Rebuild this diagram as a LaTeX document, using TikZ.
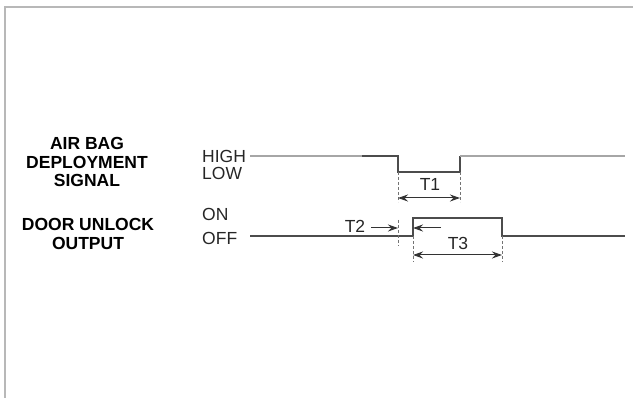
\documentclass[tikz,border=0pt]{standalone}
\usepackage{fontspec}
\setmainfont{Liberation Sans}
\usetikzlibrary{arrows.meta}
\begin{document}
\begin{tikzpicture}[x=1pt,y=-1pt,
  frame/.style={draw=black!28,line width=2pt},
  wave/.style={draw=black!70,line width=1.8pt},
  wavelight/.style={draw=black!35,line width=2.8pt},
  guide/.style={draw=black!55,line width=0.7pt,dash pattern=on 3pt off 2pt},
  dim/.style={draw=black!80,line width=1pt,-{Stealth[length=10pt,width=7pt]}},
  ddim/.style={draw=black!80,line width=1pt,{Stealth[length=10pt,width=7pt]}-{Stealth[length=10pt,width=7pt]}},
  sig/.style={font=\fontsize{17.5}{18.8}\selectfont\bfseries,align=center,inner sep=0pt},
  lvl/.style={font=\fontsize{17.5}{19}\selectfont,anchor=west,inner sep=0pt,text=black!85},
  tl/.style={font=\fontsize{17.5}{19}\selectfont,inner sep=0pt,text=black!85}]
\useasboundingbox (0,0) rectangle (633,398);
% frame
\draw[frame] (633,7) -- (5,7) -- (5,398);
% labels
\node[sig] (ab) at (87,162) {AIR BAG\\DEPLOYMENT\\SIGNAL};
\node[sig] (du) at (88,234) {DOOR UNLOCK\\OUTPUT};
\node[lvl] (high) at (202,156) {HIGH};
\node[lvl] (low) at (202,173) {LOW};
\node[lvl] (on) at (202,214) {ON};
\node[lvl] (off) at (202,238) {OFF};
% air bag waveform
\coordinate (a0) at (250,156);
\coordinate (a1) at (362,156);
\coordinate (a2) at (398,156);
\coordinate (a3) at (398,172);
\coordinate (a4) at (460,172);
\coordinate (a5) at (460,156);
\coordinate (a6) at (625,156);
\draw[wavelight] (a0) -- (a1);
\draw[wave] (a1) -- (a2) -- (a3) -- (a4) -- (a5);
\draw[wavelight] (a5) -- (a6);
% door unlock waveform
\coordinate (d0) at (250,236);
\coordinate (d1) at (413,236);
\coordinate (d2) at (413,218);
\coordinate (d3) at (502,218);
\coordinate (d4) at (502,236);
\coordinate (d5) at (625,236);
\draw[wave] (d0) -- (d1) -- (d2) -- (d3) -- (d4) -- (d5);
% guides
\coordinate (g1) at (398,202);
\coordinate (g2) at (460,202);
\draw[guide] (a3) -- (g1);
\draw[guide] (a4) -- (g2);
\coordinate (g3t) at (398,220);
\coordinate (g3b) at (398,246);
\draw[guide] (g3t) -- (g3b);
\coordinate (g4) at (413,262);
\coordinate (g5) at (502,262);
\draw[guide] (d1) -- (g4);
\draw[guide] (d4) -- (g5);
% T1
\coordinate (t1a) at (398,198);
\coordinate (t1b) at (460,198);
\draw[ddim] (t1a) -- (t1b);
\node[tl] (t1) at (430,184) {T1};
% T2
\coordinate (t2a) at (371,228);
\coordinate (t2b) at (398,228);
\draw[dim] (t2a) -- (t2b);
\node[tl] (t2) at (355,226) {T2};
\coordinate (t2c) at (441,228);
\coordinate (t2d) at (413,228);
\draw[dim] (t2c) -- (t2d);
% T3
\coordinate (t3a) at (413,255);
\coordinate (t3b) at (502,255);
\draw[ddim] (t3a) -- (t3b);
\node[tl] (t3) at (458,243) {T3};
\end{tikzpicture}
\end{document}
